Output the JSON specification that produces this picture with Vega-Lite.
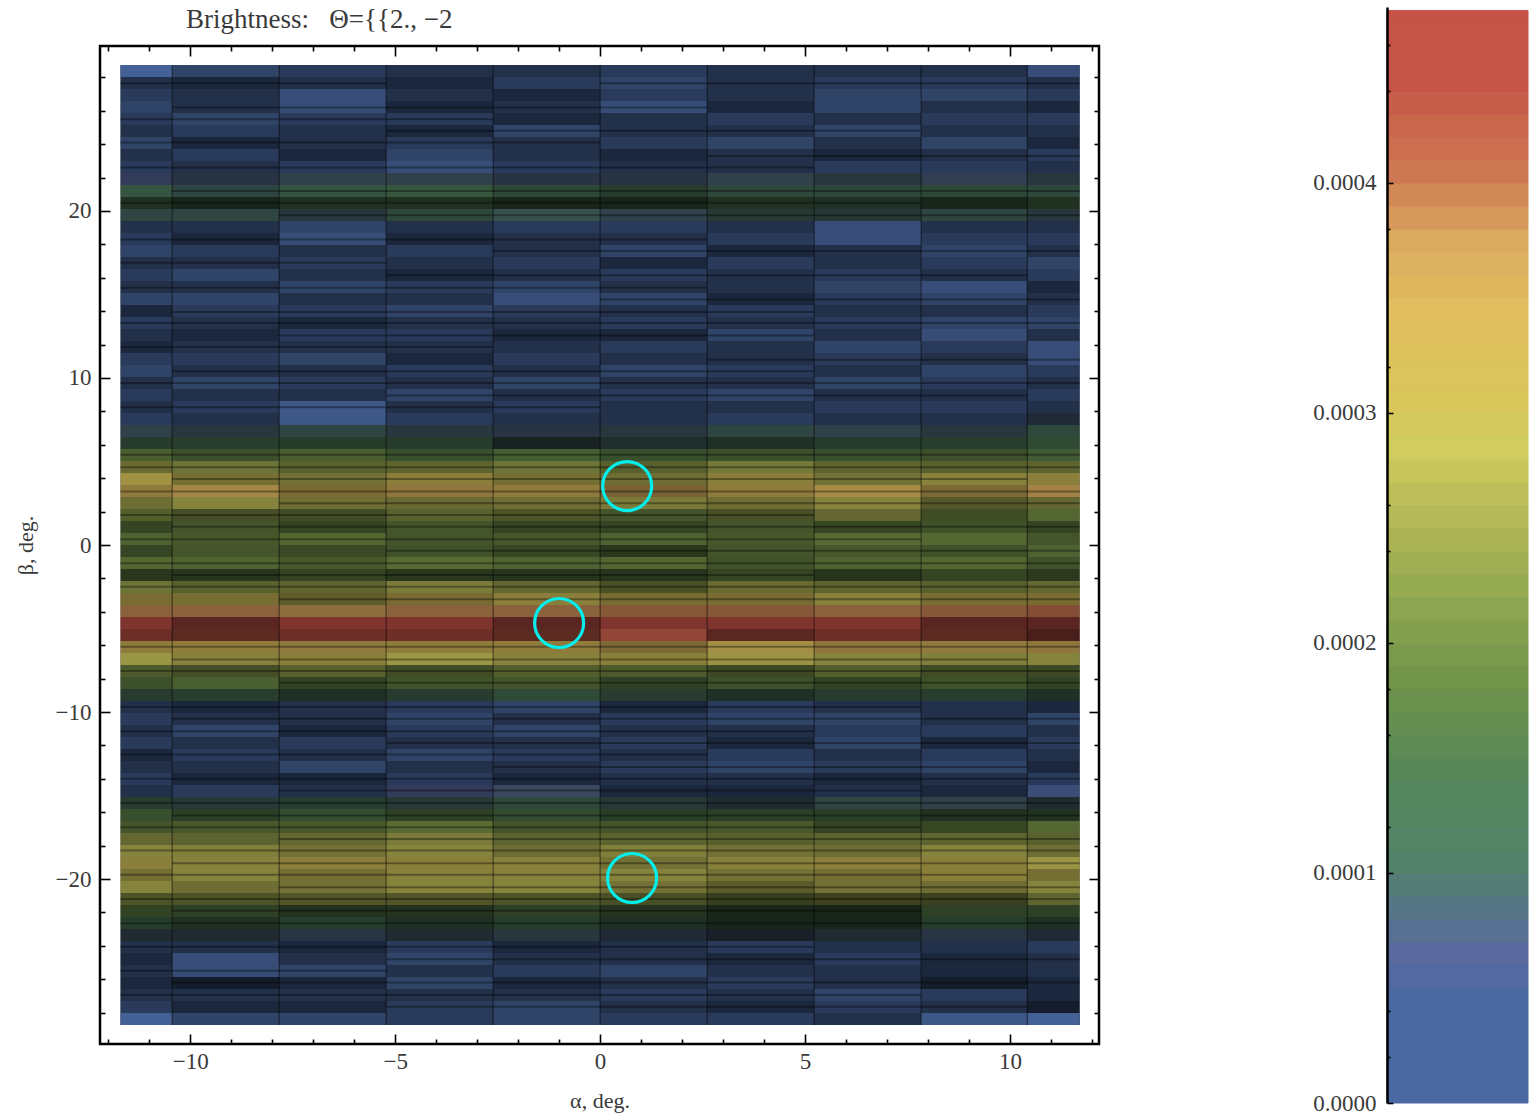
{"$schema":"https://vega.github.io/schema/vega-lite/v6.json","background":"white","padding":{"left":12,"top":6,"right":0,"bottom":0},"spacing":210,"config":{"font":"Liberation Serif","view":{"stroke":null},"axis":{"grid":false,"labelFont":"Liberation Serif","titleFont":"Liberation Serif","labelFontSize":23,"titleFontSize":22,"labelColor":"#3a3a3a","titleColor":"#3a3a3a","titleFontWeight":"normal","tickColor":"#000","tickWidth":1.6,"labelOverlap":false,"labelFlush":false}},
"datasets":{
"cols":[{"c":1,"a0":-11.7,"a1":-10.44},{"c":2,"a0":-10.44,"a1":-7.83},{"c":3,"a0":-7.83,"a1":-5.22},{"c":4,"a0":-5.22,"a1":-2.61},{"c":5,"a0":-2.61,"a1":0},{"c":6,"a0":0,"a1":2.61},{"c":7,"a0":2.61,"a1":5.22},{"c":8,"a0":5.22,"a1":7.83},{"c":9,"a0":7.83,"a1":10.42},{"c":10,"a0":10.42,"a1":11.7}],
"rows":[{"r":1,"b0":28.74,"b1":28.02},{"r":2,"b0":28.02,"b1":27.3},{"r":3,"b0":27.3,"b1":26.58},{"r":4,"b0":26.58,"b1":25.87},{"r":5,"b0":25.87,"b1":25.15},{"r":6,"b0":25.15,"b1":24.43},{"r":7,"b0":24.43,"b1":23.71},{"r":8,"b0":23.71,"b1":22.99},{"r":9,"b0":22.99,"b1":22.27},{"r":10,"b0":22.27,"b1":21.56},{"r":11,"b0":21.56,"b1":20.84},{"r":12,"b0":20.84,"b1":20.12},{"r":13,"b0":20.12,"b1":19.4},{"r":14,"b0":19.4,"b1":18.68},{"r":15,"b0":18.68,"b1":17.96},{"r":16,"b0":17.96,"b1":17.24},{"r":17,"b0":17.24,"b1":16.53},{"r":18,"b0":16.53,"b1":15.81},{"r":19,"b0":15.81,"b1":15.09},{"r":20,"b0":15.09,"b1":14.37},{"r":21,"b0":14.37,"b1":13.65},{"r":22,"b0":13.65,"b1":12.93},{"r":23,"b0":12.93,"b1":12.21},{"r":24,"b0":12.21,"b1":11.5},{"r":25,"b0":11.5,"b1":10.78},{"r":26,"b0":10.78,"b1":10.06},{"r":27,"b0":10.06,"b1":9.34},{"r":28,"b0":9.34,"b1":8.62},{"r":29,"b0":8.62,"b1":7.9},{"r":30,"b0":7.9,"b1":7.19},{"r":31,"b0":7.19,"b1":6.47},{"r":32,"b0":6.47,"b1":5.75},{"r":33,"b0":5.75,"b1":5.03},{"r":34,"b0":5.03,"b1":4.31},{"r":35,"b0":4.31,"b1":3.59},{"r":36,"b0":3.59,"b1":2.87},{"r":37,"b0":2.87,"b1":2.16},{"r":38,"b0":2.16,"b1":1.44},{"r":39,"b0":1.44,"b1":0.72},{"r":40,"b0":0.72,"b1":0},{"r":41,"b0":0,"b1":-0.72},{"r":42,"b0":-0.72,"b1":-1.44},{"r":43,"b0":-1.44,"b1":-2.16},{"r":44,"b0":-2.16,"b1":-2.87},{"r":45,"b0":-2.87,"b1":-3.59},{"r":46,"b0":-3.59,"b1":-4.31},{"r":47,"b0":-4.31,"b1":-5.03},{"r":48,"b0":-5.03,"b1":-5.75},{"r":49,"b0":-5.75,"b1":-6.47},{"r":50,"b0":-6.47,"b1":-7.19},{"r":51,"b0":-7.19,"b1":-7.9},{"r":52,"b0":-7.9,"b1":-8.62},{"r":53,"b0":-8.62,"b1":-9.34},{"r":54,"b0":-9.34,"b1":-10.06},{"r":55,"b0":-10.06,"b1":-10.78},{"r":56,"b0":-10.78,"b1":-11.5},{"r":57,"b0":-11.5,"b1":-12.21},{"r":58,"b0":-12.21,"b1":-12.93},{"r":59,"b0":-12.93,"b1":-13.65},{"r":60,"b0":-13.65,"b1":-14.37},{"r":61,"b0":-14.37,"b1":-15.09},{"r":62,"b0":-15.09,"b1":-15.81},{"r":63,"b0":-15.81,"b1":-16.53},{"r":64,"b0":-16.53,"b1":-17.24},{"r":65,"b0":-17.24,"b1":-17.96},{"r":66,"b0":-17.96,"b1":-18.68},{"r":67,"b0":-18.68,"b1":-19.4},{"r":68,"b0":-19.4,"b1":-20.12},{"r":69,"b0":-20.12,"b1":-20.84},{"r":70,"b0":-20.84,"b1":-21.56},{"r":71,"b0":-21.56,"b1":-22.27},{"r":72,"b0":-22.27,"b1":-22.99},{"r":73,"b0":-22.99,"b1":-23.71},{"r":74,"b0":-23.71,"b1":-24.43},{"r":75,"b0":-24.43,"b1":-25.15},{"r":76,"b0":-25.15,"b1":-25.87},{"r":77,"b0":-25.87,"b1":-26.58},{"r":78,"b0":-26.58,"b1":-27.3},{"r":79,"b0":-27.3,"b1":-28.02},{"r":80,"b0":-28.02,"b1":-28.74}],
"cells":[
{"c":1,"r":1,"v":2e-5,"o":10},{"c":2,"r":1,"v":2e-5,"o":7},{"c":3,"r":1,"v":2e-5,"o":6},{"c":4,"r":1,"v":2e-5,"o":5},{"c":5,"r":1,"v":2e-5,"o":5},{"c":6,"r":1,"v":2e-5,"o":6},{"c":7,"r":1,"v":2e-5,"o":5},{"c":8,"r":1,"v":2e-5,"o":5},{"c":9,"r":1,"v":2e-5,"o":5},{"c":10,"r":1,"v":2e-5,"o":8},
{"c":1,"r":2,"v":2e-5,"o":5},{"c":2,"r":2,"v":2e-5,"o":4},{"c":3,"r":2,"v":2e-5,"o":5},{"c":4,"r":2,"v":2e-5,"o":4},{"c":5,"r":2,"v":2e-5,"o":6},{"c":6,"r":2,"v":2e-5,"o":7},{"c":7,"r":2,"v":2e-5,"o":5},{"c":8,"r":2,"v":2e-5,"o":6},{"c":9,"r":2,"v":2e-5,"o":6},{"c":10,"r":2,"v":2e-5,"o":5},
{"c":1,"r":3,"v":2e-5,"o":6},{"c":2,"r":3,"v":2e-5,"o":5},{"c":3,"r":3,"v":2e-5,"o":8},{"c":4,"r":3,"v":2e-5,"o":5},{"c":5,"r":3,"v":2e-5,"o":4},{"c":6,"r":3,"v":2e-5,"o":6},{"c":7,"r":3,"v":2e-5,"o":5},{"c":8,"r":3,"v":2e-5,"o":7},{"c":9,"r":3,"v":2e-5,"o":7},{"c":10,"r":3,"v":2e-5,"o":6},
{"c":1,"r":4,"v":2e-5,"o":7},{"c":2,"r":4,"v":2e-5,"o":5},{"c":3,"r":4,"v":2e-5,"o":8},{"c":4,"r":4,"v":2e-5,"o":4},{"c":5,"r":4,"v":2e-5,"o":5},{"c":6,"r":4,"v":2e-5,"o":8},{"c":7,"r":4,"v":2e-5,"o":4},{"c":8,"r":4,"v":2e-5,"o":7},{"c":9,"r":4,"v":2e-5,"o":5},{"c":10,"r":4,"v":2e-5,"o":4},
{"c":1,"r":5,"v":2e-5,"o":6},{"c":2,"r":5,"v":2e-5,"o":7},{"c":3,"r":5,"v":2e-5,"o":6},{"c":4,"r":5,"v":2e-5,"o":6},{"c":5,"r":5,"v":2e-5,"o":4},{"c":6,"r":5,"v":2e-5,"o":5},{"c":7,"r":5,"v":2e-5,"o":6},{"c":8,"r":5,"v":2e-5,"o":5},{"c":9,"r":5,"v":2e-5,"o":6},{"c":10,"r":5,"v":2e-5,"o":6},
{"c":1,"r":6,"v":2e-5,"o":5},{"c":2,"r":6,"v":2e-5,"o":6},{"c":3,"r":6,"v":2e-5,"o":5},{"c":4,"r":6,"v":2e-5,"o":4},{"c":5,"r":6,"v":2e-5,"o":7},{"c":6,"r":6,"v":2e-5,"o":5},{"c":7,"r":6,"v":2e-5,"o":5},{"c":8,"r":6,"v":2e-5,"o":7},{"c":9,"r":6,"v":2e-5,"o":5},{"c":10,"r":6,"v":2e-5,"o":5},
{"c":1,"r":7,"v":2e-5,"o":7},{"c":2,"r":7,"v":2e-5,"o":4},{"c":3,"r":7,"v":2e-5,"o":5},{"c":4,"r":7,"v":2e-5,"o":6},{"c":5,"r":7,"v":2e-5,"o":5},{"c":6,"r":7,"v":2e-5,"o":6},{"c":7,"r":7,"v":2e-5,"o":7},{"c":8,"r":7,"v":2e-5,"o":5},{"c":9,"r":7,"v":2e-5,"o":7},{"c":10,"r":7,"v":2e-5,"o":4},
{"c":1,"r":8,"v":3e-5,"o":5},{"c":2,"r":8,"v":3e-5,"o":6},{"c":3,"r":8,"v":3e-5,"o":4},{"c":4,"r":8,"v":3e-5,"o":7},{"c":5,"r":8,"v":3e-5,"o":5},{"c":6,"r":8,"v":3e-5,"o":4},{"c":7,"r":8,"v":3e-5,"o":5},{"c":8,"r":8,"v":3e-5,"o":4},{"c":9,"r":8,"v":3e-5,"o":5},{"c":10,"r":8,"v":3e-5,"o":6},
{"c":1,"r":9,"v":4e-5,"o":6},{"c":2,"r":9,"v":3e-5,"o":5},{"c":3,"r":9,"v":4e-5,"o":6},{"c":4,"r":9,"v":4e-5,"o":8},{"c":5,"r":9,"v":3e-5,"o":6},{"c":6,"r":9,"v":4e-5,"o":5},{"c":7,"r":9,"v":4e-5,"o":5},{"c":8,"r":9,"v":3e-5,"o":6},{"c":9,"r":9,"v":4e-5,"o":6},{"c":10,"r":9,"v":3e-5,"o":5},
{"c":1,"r":10,"v":6e-5,"o":6},{"c":2,"r":10,"v":7e-5,"o":5},{"c":3,"r":10,"v":8e-5,"o":6},{"c":4,"r":10,"v":8e-5,"o":6},{"c":5,"r":10,"v":7e-5,"o":5},{"c":6,"r":10,"v":7e-5,"o":5},{"c":7,"r":10,"v":8e-5,"o":6},{"c":8,"r":10,"v":8e-5,"o":5},{"c":9,"r":10,"v":7e-5,"o":6},{"c":10,"r":10,"v":8e-5,"o":5},
{"c":1,"r":11,"v":11e-5,"o":7},{"c":2,"r":11,"v":9e-5,"o":6},{"c":3,"r":11,"v":10e-5,"o":7},{"c":4,"r":11,"v":12e-5,"o":7},{"c":5,"r":11,"v":11e-5,"o":6},{"c":6,"r":11,"v":11e-5,"o":5},{"c":7,"r":11,"v":10e-5,"o":6},{"c":8,"r":11,"v":10e-5,"o":6},{"c":9,"r":11,"v":11e-5,"o":6},{"c":10,"r":11,"v":10e-5,"o":6},
{"c":1,"r":12,"v":13e-5,"o":4},{"c":2,"r":12,"v":12e-5,"o":3},{"c":3,"r":12,"v":13e-5,"o":4},{"c":4,"r":12,"v":13e-5,"o":4},{"c":5,"r":12,"v":14e-5,"o":3},{"c":6,"r":12,"v":13e-5,"o":3},{"c":7,"r":12,"v":13e-5,"o":4},{"c":8,"r":12,"v":12e-5,"o":4},{"c":9,"r":12,"v":12e-5,"o":3},{"c":10,"r":12,"v":13e-5,"o":4},
{"c":1,"r":13,"v":9e-5,"o":6},{"c":2,"r":13,"v":9e-5,"o":6},{"c":3,"r":13,"v":8e-5,"o":5},{"c":4,"r":13,"v":10e-5,"o":6},{"c":5,"r":13,"v":9e-5,"o":7},{"c":6,"r":13,"v":8e-5,"o":6},{"c":7,"r":13,"v":9e-5,"o":5},{"c":8,"r":13,"v":9e-5,"o":5},{"c":9,"r":13,"v":9e-5,"o":6},{"c":10,"r":13,"v":8e-5,"o":5},
{"c":1,"r":14,"v":3e-5,"o":5},{"c":2,"r":14,"v":3e-5,"o":5},{"c":3,"r":14,"v":3e-5,"o":7},{"c":4,"r":14,"v":2e-5,"o":5},{"c":5,"r":14,"v":3e-5,"o":6},{"c":6,"r":14,"v":3e-5,"o":6},{"c":7,"r":14,"v":3e-5,"o":5},{"c":8,"r":14,"v":3e-5,"o":8},{"c":9,"r":14,"v":3e-5,"o":5},{"c":10,"r":14,"v":3e-5,"o":5},
{"c":1,"r":15,"v":2e-5,"o":6},{"c":2,"r":15,"v":2e-5,"o":4},{"c":3,"r":15,"v":2e-5,"o":8},{"c":4,"r":15,"v":2e-5,"o":4},{"c":5,"r":15,"v":2e-5,"o":5},{"c":6,"r":15,"v":2e-5,"o":5},{"c":7,"r":15,"v":2e-5,"o":6},{"c":8,"r":15,"v":2e-5,"o":8},{"c":9,"r":15,"v":2e-5,"o":6},{"c":10,"r":15,"v":2e-5,"o":6},
{"c":1,"r":16,"v":2e-5,"o":7},{"c":2,"r":16,"v":2e-5,"o":6},{"c":3,"r":16,"v":2e-5,"o":5},{"c":4,"r":16,"v":2e-5,"o":6},{"c":5,"r":16,"v":2e-5,"o":5},{"c":6,"r":16,"v":2e-5,"o":7},{"c":7,"r":16,"v":2e-5,"o":4},{"c":8,"r":16,"v":2e-5,"o":5},{"c":9,"r":16,"v":2e-5,"o":7},{"c":10,"r":16,"v":2e-5,"o":5},
{"c":1,"r":17,"v":2e-5,"o":5},{"c":2,"r":17,"v":2e-5,"o":5},{"c":3,"r":17,"v":2e-5,"o":6},{"c":4,"r":17,"v":2e-5,"o":5},{"c":5,"r":17,"v":2e-5,"o":6},{"c":6,"r":17,"v":2e-5,"o":4},{"c":7,"r":17,"v":2e-5,"o":6},{"c":8,"r":17,"v":2e-5,"o":5},{"c":9,"r":17,"v":2e-5,"o":6},{"c":10,"r":17,"v":2e-5,"o":7},
{"c":1,"r":18,"v":2e-5,"o":6},{"c":2,"r":18,"v":2e-5,"o":7},{"c":3,"r":18,"v":2e-5,"o":5},{"c":4,"r":18,"v":2e-5,"o":4},{"c":5,"r":18,"v":2e-5,"o":5},{"c":6,"r":18,"v":2e-5,"o":6},{"c":7,"r":18,"v":2e-5,"o":5},{"c":8,"r":18,"v":2e-5,"o":6},{"c":9,"r":18,"v":2e-5,"o":5},{"c":10,"r":18,"v":2e-5,"o":6},
{"c":1,"r":19,"v":2e-5,"o":5},{"c":2,"r":19,"v":2e-5,"o":5},{"c":3,"r":19,"v":2e-5,"o":7},{"c":4,"r":19,"v":2e-5,"o":6},{"c":5,"r":19,"v":2e-5,"o":7},{"c":6,"r":19,"v":2e-5,"o":5},{"c":7,"r":19,"v":2e-5,"o":5},{"c":8,"r":19,"v":2e-5,"o":7},{"c":9,"r":19,"v":2e-5,"o":8},{"c":10,"r":19,"v":2e-5,"o":4},
{"c":1,"r":20,"v":2e-5,"o":7},{"c":2,"r":20,"v":2e-5,"o":7},{"c":3,"r":20,"v":2e-5,"o":5},{"c":4,"r":20,"v":2e-5,"o":5},{"c":5,"r":20,"v":2e-5,"o":8},{"c":6,"r":20,"v":2e-5,"o":7},{"c":7,"r":20,"v":2e-5,"o":4},{"c":8,"r":20,"v":2e-5,"o":6},{"c":9,"r":20,"v":2e-5,"o":7},{"c":10,"r":20,"v":2e-5,"o":5},
{"c":1,"r":21,"v":2e-5,"o":4},{"c":2,"r":21,"v":2e-5,"o":6},{"c":3,"r":21,"v":2e-5,"o":6},{"c":4,"r":21,"v":2e-5,"o":7},{"c":5,"r":21,"v":2e-5,"o":6},{"c":6,"r":21,"v":2e-5,"o":5},{"c":7,"r":21,"v":2e-5,"o":6},{"c":8,"r":21,"v":2e-5,"o":5},{"c":9,"r":21,"v":2e-5,"o":5},{"c":10,"r":21,"v":2e-5,"o":6},
{"c":1,"r":22,"v":2e-5,"o":6},{"c":2,"r":22,"v":2e-5,"o":5},{"c":3,"r":22,"v":2e-5,"o":4},{"c":4,"r":22,"v":2e-5,"o":5},{"c":5,"r":22,"v":2e-5,"o":5},{"c":6,"r":22,"v":2e-5,"o":6},{"c":7,"r":22,"v":2e-5,"o":5},{"c":8,"r":22,"v":2e-5,"o":6},{"c":9,"r":22,"v":2e-5,"o":7},{"c":10,"r":22,"v":2e-5,"o":7},
{"c":1,"r":23,"v":2e-5,"o":5},{"c":2,"r":23,"v":2e-5,"o":4},{"c":3,"r":23,"v":2e-5,"o":6},{"c":4,"r":23,"v":2e-5,"o":6},{"c":5,"r":23,"v":2e-5,"o":4},{"c":6,"r":23,"v":2e-5,"o":4},{"c":7,"r":23,"v":2e-5,"o":7},{"c":8,"r":23,"v":2e-5,"o":5},{"c":9,"r":23,"v":2e-5,"o":8},{"c":10,"r":23,"v":2e-5,"o":5},
{"c":1,"r":24,"v":2e-5,"o":4},{"c":2,"r":24,"v":2e-5,"o":5},{"c":3,"r":24,"v":2e-5,"o":5},{"c":4,"r":24,"v":2e-5,"o":5},{"c":5,"r":24,"v":2e-5,"o":5},{"c":6,"r":24,"v":2e-5,"o":6},{"c":7,"r":24,"v":2e-5,"o":5},{"c":8,"r":24,"v":2e-5,"o":7},{"c":9,"r":24,"v":2e-5,"o":6},{"c":10,"r":24,"v":2e-5,"o":8},
{"c":1,"r":25,"v":2e-5,"o":6},{"c":2,"r":25,"v":2e-5,"o":6},{"c":3,"r":25,"v":2e-5,"o":7},{"c":4,"r":25,"v":2e-5,"o":4},{"c":5,"r":25,"v":2e-5,"o":6},{"c":6,"r":25,"v":2e-5,"o":5},{"c":7,"r":25,"v":2e-5,"o":5},{"c":8,"r":25,"v":2e-5,"o":6},{"c":9,"r":25,"v":2e-5,"o":5},{"c":10,"r":25,"v":2e-5,"o":8},
{"c":1,"r":26,"v":2e-5,"o":7},{"c":2,"r":26,"v":2e-5,"o":5},{"c":3,"r":26,"v":2e-5,"o":5},{"c":4,"r":26,"v":2e-5,"o":6},{"c":5,"r":26,"v":2e-5,"o":5},{"c":6,"r":26,"v":2e-5,"o":7},{"c":7,"r":26,"v":2e-5,"o":6},{"c":8,"r":26,"v":2e-5,"o":5},{"c":9,"r":26,"v":2e-5,"o":7},{"c":10,"r":26,"v":2e-5,"o":6},
{"c":1,"r":27,"v":2e-5,"o":5},{"c":2,"r":27,"v":2e-5,"o":7},{"c":3,"r":27,"v":2e-5,"o":6},{"c":4,"r":27,"v":2e-5,"o":5},{"c":5,"r":27,"v":2e-5,"o":7},{"c":6,"r":27,"v":2e-5,"o":5},{"c":7,"r":27,"v":2e-5,"o":5},{"c":8,"r":27,"v":2e-5,"o":7},{"c":9,"r":27,"v":2e-5,"o":6},{"c":10,"r":27,"v":2e-5,"o":5},
{"c":1,"r":28,"v":2e-5,"o":6},{"c":2,"r":28,"v":2e-5,"o":5},{"c":3,"r":28,"v":2e-5,"o":5},{"c":4,"r":28,"v":2e-5,"o":7},{"c":5,"r":28,"v":2e-5,"o":5},{"c":6,"r":28,"v":2e-5,"o":6},{"c":7,"r":28,"v":2e-5,"o":7},{"c":8,"r":28,"v":2e-5,"o":5},{"c":9,"r":28,"v":2e-5,"o":5},{"c":10,"r":28,"v":2e-5,"o":6},
{"c":1,"r":29,"v":3e-5,"o":5},{"c":2,"r":29,"v":3e-5,"o":6},{"c":3,"r":29,"v":2e-5,"o":9},{"c":4,"r":29,"v":3e-5,"o":5},{"c":5,"r":29,"v":3e-5,"o":6},{"c":6,"r":29,"v":3e-5,"o":5},{"c":7,"r":29,"v":3e-5,"o":5},{"c":8,"r":29,"v":3e-5,"o":6},{"c":9,"r":29,"v":3e-5,"o":6},{"c":10,"r":29,"v":3e-5,"o":5},
{"c":1,"r":30,"v":4e-5,"o":6},{"c":2,"r":30,"v":4e-5,"o":5},{"c":3,"r":30,"v":3e-5,"o":9},{"c":4,"r":30,"v":4e-5,"o":6},{"c":5,"r":30,"v":4e-5,"o":5},{"c":6,"r":30,"v":4e-5,"o":5},{"c":7,"r":30,"v":4e-5,"o":6},{"c":8,"r":30,"v":4e-5,"o":5},{"c":9,"r":30,"v":4e-5,"o":5},{"c":10,"r":30,"v":7e-5,"o":4},
{"c":1,"r":31,"v":8e-5,"o":6},{"c":2,"r":31,"v":8e-5,"o":5},{"c":3,"r":31,"v":9e-5,"o":6},{"c":4,"r":31,"v":8e-5,"o":5},{"c":5,"r":31,"v":7e-5,"o":5},{"c":6,"r":31,"v":8e-5,"o":5},{"c":7,"r":31,"v":9e-5,"o":6},{"c":8,"r":31,"v":8e-5,"o":6},{"c":9,"r":31,"v":8e-5,"o":5},{"c":10,"r":31,"v":10e-5,"o":6},
{"c":1,"r":32,"v":11e-5,"o":5},{"c":2,"r":32,"v":12e-5,"o":5},{"c":3,"r":32,"v":13e-5,"o":5},{"c":4,"r":32,"v":11e-5,"o":5},{"c":5,"r":32,"v":9e-5,"o":3},{"c":6,"r":32,"v":9e-5,"o":4},{"c":7,"r":32,"v":10e-5,"o":4},{"c":8,"r":32,"v":11e-5,"o":5},{"c":9,"r":32,"v":12e-5,"o":5},{"c":10,"r":32,"v":13e-5,"o":6},
{"c":1,"r":33,"v":18e-5,"o":7},{"c":2,"r":33,"v":17e-5,"o":6},{"c":3,"r":33,"v":18e-5,"o":7},{"c":4,"r":33,"v":16e-5,"o":6},{"c":5,"r":33,"v":17e-5,"o":7},{"c":6,"r":33,"v":16e-5,"o":6},{"c":7,"r":33,"v":17e-5,"o":6},{"c":8,"r":33,"v":16e-5,"o":6},{"c":9,"r":33,"v":17e-5,"o":6},{"c":10,"r":33,"v":16e-5,"o":7},
{"c":1,"r":34,"v":26e-5,"o":6},{"c":2,"r":34,"v":24e-5,"o":7},{"c":3,"r":34,"v":23e-5,"o":6},{"c":4,"r":34,"v":24e-5,"o":6},{"c":5,"r":34,"v":24e-5,"o":7},{"c":6,"r":34,"v":23e-5,"o":6},{"c":7,"r":34,"v":25e-5,"o":7},{"c":8,"r":34,"v":24e-5,"o":6},{"c":9,"r":34,"v":23e-5,"o":6},{"c":10,"r":34,"v":24e-5,"o":6},
{"c":1,"r":35,"v":31e-5,"o":8},{"c":2,"r":35,"v":29e-5,"o":6},{"c":3,"r":35,"v":28e-5,"o":6},{"c":4,"r":35,"v":30e-5,"o":7},{"c":5,"r":35,"v":29e-5,"o":6},{"c":6,"r":35,"v":27e-5,"o":6},{"c":7,"r":35,"v":30e-5,"o":7},{"c":8,"r":35,"v":28e-5,"o":6},{"c":9,"r":35,"v":29e-5,"o":7},{"c":10,"r":35,"v":31e-5,"o":7},
{"c":1,"r":36,"v":34e-5,"o":7},{"c":2,"r":36,"v":35e-5,"o":8},{"c":3,"r":36,"v":33e-5,"o":6},{"c":4,"r":36,"v":35e-5,"o":7},{"c":5,"r":36,"v":34e-5,"o":7},{"c":6,"r":36,"v":36e-5,"o":6},{"c":7,"r":36,"v":33e-5,"o":7},{"c":8,"r":36,"v":34e-5,"o":8},{"c":9,"r":36,"v":34e-5,"o":6},{"c":10,"r":36,"v":36e-5,"o":8},
{"c":1,"r":37,"v":27e-5,"o":6},{"c":2,"r":37,"v":28e-5,"o":7},{"c":3,"r":37,"v":27e-5,"o":6},{"c":4,"r":37,"v":26e-5,"o":6},{"c":5,"r":37,"v":27e-5,"o":6},{"c":6,"r":37,"v":26e-5,"o":7},{"c":7,"r":37,"v":27e-5,"o":6},{"c":8,"r":37,"v":28e-5,"o":7},{"c":9,"r":37,"v":26e-5,"o":5},{"c":10,"r":37,"v":25e-5,"o":6},
{"c":1,"r":38,"v":22e-5,"o":6},{"c":2,"r":38,"v":22e-5,"o":5},{"c":3,"r":38,"v":21e-5,"o":5},{"c":4,"r":38,"v":23e-5,"o":6},{"c":5,"r":38,"v":24e-5,"o":5},{"c":6,"r":38,"v":19e-5,"o":6},{"c":7,"r":38,"v":23e-5,"o":5},{"c":8,"r":38,"v":25e-5,"o":6},{"c":9,"r":38,"v":21e-5,"o":5},{"c":10,"r":38,"v":20e-5,"o":7},
{"c":1,"r":39,"v":18e-5,"o":5},{"c":2,"r":39,"v":19e-5,"o":6},{"c":3,"r":39,"v":18e-5,"o":5},{"c":4,"r":39,"v":19e-5,"o":6},{"c":5,"r":39,"v":18e-5,"o":5},{"c":6,"r":39,"v":18e-5,"o":5},{"c":7,"r":39,"v":19e-5,"o":6},{"c":8,"r":39,"v":19e-5,"o":5},{"c":9,"r":39,"v":18e-5,"o":6},{"c":10,"r":39,"v":18e-5,"o":5},
{"c":1,"r":40,"v":19e-5,"o":7},{"c":2,"r":40,"v":20e-5,"o":6},{"c":3,"r":40,"v":20e-5,"o":7},{"c":4,"r":40,"v":19e-5,"o":6},{"c":5,"r":40,"v":20e-5,"o":6},{"c":6,"r":40,"v":19e-5,"o":7},{"c":7,"r":40,"v":20e-5,"o":6},{"c":8,"r":40,"v":21e-5,"o":7},{"c":9,"r":40,"v":20e-5,"o":7},{"c":10,"r":40,"v":19e-5,"o":6},
{"c":1,"r":41,"v":18e-5,"o":5},{"c":2,"r":41,"v":19e-5,"o":6},{"c":3,"r":41,"v":20e-5,"o":5},{"c":4,"r":41,"v":18e-5,"o":6},{"c":5,"r":41,"v":19e-5,"o":5},{"c":6,"r":41,"v":18e-5,"o":4},{"c":7,"r":41,"v":19e-5,"o":6},{"c":8,"r":41,"v":20e-5,"o":6},{"c":9,"r":41,"v":18e-5,"o":6},{"c":10,"r":41,"v":19e-5,"o":7},
{"c":1,"r":42,"v":20e-5,"o":7},{"c":2,"r":42,"v":19e-5,"o":7},{"c":3,"r":42,"v":20e-5,"o":6},{"c":4,"r":42,"v":21e-5,"o":7},{"c":5,"r":42,"v":19e-5,"o":7},{"c":6,"r":42,"v":20e-5,"o":7},{"c":7,"r":42,"v":18e-5,"o":6},{"c":8,"r":42,"v":19e-5,"o":7},{"c":9,"r":42,"v":20e-5,"o":7},{"c":10,"r":42,"v":18e-5,"o":6},
{"c":1,"r":43,"v":18e-5,"o":4},{"c":2,"r":43,"v":17e-5,"o":4},{"c":3,"r":43,"v":18e-5,"o":5},{"c":4,"r":43,"v":18e-5,"o":4},{"c":5,"r":43,"v":17e-5,"o":4},{"c":6,"r":43,"v":17e-5,"o":4},{"c":7,"r":43,"v":18e-5,"o":5},{"c":8,"r":43,"v":17e-5,"o":4},{"c":9,"r":43,"v":18e-5,"o":5},{"c":10,"r":43,"v":19e-5,"o":4},
{"c":1,"r":44,"v":24e-5,"o":7},{"c":2,"r":44,"v":23e-5,"o":6},{"c":3,"r":44,"v":24e-5,"o":6},{"c":4,"r":44,"v":26e-5,"o":7},{"c":5,"r":44,"v":25e-5,"o":6},{"c":6,"r":44,"v":23e-5,"o":5},{"c":7,"r":44,"v":26e-5,"o":6},{"c":8,"r":44,"v":24e-5,"o":6},{"c":9,"r":44,"v":23e-5,"o":6},{"c":10,"r":44,"v":25e-5,"o":6},
{"c":1,"r":45,"v":31e-5,"o":6},{"c":2,"r":45,"v":30e-5,"o":6},{"c":3,"r":45,"v":29e-5,"o":5},{"c":4,"r":45,"v":31e-5,"o":6},{"c":5,"r":45,"v":30e-5,"o":7},{"c":6,"r":45,"v":31e-5,"o":6},{"c":7,"r":45,"v":31e-5,"o":6},{"c":8,"r":45,"v":29e-5,"o":7},{"c":9,"r":45,"v":30e-5,"o":6},{"c":10,"r":45,"v":31e-5,"o":6},
{"c":1,"r":46,"v":38e-5,"o":7},{"c":2,"r":46,"v":38e-5,"o":7},{"c":3,"r":46,"v":37e-5,"o":7},{"c":4,"r":46,"v":38e-5,"o":7},{"c":5,"r":46,"v":38e-5,"o":7},{"c":6,"r":46,"v":39e-5,"o":7},{"c":7,"r":46,"v":39e-5,"o":7},{"c":8,"r":46,"v":38e-5,"o":7},{"c":9,"r":46,"v":39e-5,"o":7},{"c":10,"r":46,"v":40e-5,"o":7},
{"c":1,"r":47,"v":46e-5,"o":7},{"c":2,"r":47,"v":46e-5,"o":5},{"c":3,"r":47,"v":46e-5,"o":7},{"c":4,"r":47,"v":46e-5,"o":7},{"c":5,"r":47,"v":46e-5,"o":5},{"c":6,"r":47,"v":46e-5,"o":7},{"c":7,"r":47,"v":46e-5,"o":7},{"c":8,"r":47,"v":46e-5,"o":7},{"c":9,"r":47,"v":46e-5,"o":5},{"c":10,"r":47,"v":46e-5,"o":5},
{"c":1,"r":48,"v":45e-5,"o":6},{"c":2,"r":48,"v":43e-5,"o":5},{"c":3,"r":48,"v":44e-5,"o":6},{"c":4,"r":48,"v":44e-5,"o":6},{"c":5,"r":48,"v":43e-5,"o":5},{"c":6,"r":48,"v":43e-5,"o":8},{"c":7,"r":48,"v":45e-5,"o":5},{"c":8,"r":48,"v":44e-5,"o":6},{"c":9,"r":48,"v":43e-5,"o":5},{"c":10,"r":48,"v":44e-5,"o":4},
{"c":1,"r":49,"v":33e-5,"o":7},{"c":2,"r":49,"v":33e-5,"o":7},{"c":3,"r":49,"v":34e-5,"o":7},{"c":4,"r":49,"v":33e-5,"o":7},{"c":5,"r":49,"v":33e-5,"o":7},{"c":6,"r":49,"v":34e-5,"o":6},{"c":7,"r":49,"v":33e-5,"o":8},{"c":8,"r":49,"v":35e-5,"o":7},{"c":9,"r":49,"v":34e-5,"o":7},{"c":10,"r":49,"v":35e-5,"o":7},
{"c":1,"r":50,"v":28e-5,"o":8},{"c":2,"r":50,"v":29e-5,"o":7},{"c":3,"r":50,"v":30e-5,"o":7},{"c":4,"r":50,"v":28e-5,"o":8},{"c":5,"r":50,"v":29e-5,"o":7},{"c":6,"r":50,"v":30e-5,"o":7},{"c":7,"r":50,"v":29e-5,"o":8},{"c":8,"r":50,"v":28e-5,"o":7},{"c":9,"r":50,"v":27e-5,"o":7},{"c":10,"r":50,"v":28e-5,"o":7},
{"c":1,"r":51,"v":21e-5,"o":6},{"c":2,"r":51,"v":22e-5,"o":5},{"c":3,"r":51,"v":23e-5,"o":6},{"c":4,"r":51,"v":21e-5,"o":5},{"c":5,"r":51,"v":22e-5,"o":6},{"c":6,"r":51,"v":21e-5,"o":6},{"c":7,"r":51,"v":20e-5,"o":5},{"c":8,"r":51,"v":22e-5,"o":6},{"c":9,"r":51,"v":21e-5,"o":5},{"c":10,"r":51,"v":20e-5,"o":5},
{"c":1,"r":52,"v":17e-5,"o":6},{"c":2,"r":52,"v":18e-5,"o":7},{"c":3,"r":52,"v":17e-5,"o":5},{"c":4,"r":52,"v":18e-5,"o":6},{"c":5,"r":52,"v":19e-5,"o":6},{"c":6,"r":52,"v":16e-5,"o":5},{"c":7,"r":52,"v":17e-5,"o":6},{"c":8,"r":52,"v":17e-5,"o":5},{"c":9,"r":52,"v":18e-5,"o":6},{"c":10,"r":52,"v":17e-5,"o":5},
{"c":1,"r":53,"v":11e-5,"o":5},{"c":2,"r":53,"v":12e-5,"o":5},{"c":3,"r":53,"v":10e-5,"o":4},{"c":4,"r":53,"v":11e-5,"o":5},{"c":5,"r":53,"v":12e-5,"o":6},{"c":6,"r":53,"v":11e-5,"o":5},{"c":7,"r":53,"v":10e-5,"o":4},{"c":8,"r":53,"v":11e-5,"o":5},{"c":9,"r":53,"v":12e-5,"o":5},{"c":10,"r":53,"v":10e-5,"o":4},
{"c":1,"r":54,"v":4e-5,"o":5},{"c":2,"r":54,"v":3e-5,"o":4},{"c":3,"r":54,"v":3e-5,"o":5},{"c":4,"r":54,"v":4e-5,"o":6},{"c":5,"r":54,"v":3e-5,"o":7},{"c":6,"r":54,"v":3e-5,"o":4},{"c":7,"r":54,"v":4e-5,"o":6},{"c":8,"r":54,"v":3e-5,"o":5},{"c":9,"r":54,"v":4e-5,"o":5},{"c":10,"r":54,"v":3e-5,"o":4},
{"c":1,"r":55,"v":2e-5,"o":6},{"c":2,"r":55,"v":2e-5,"o":5},{"c":3,"r":55,"v":2e-5,"o":5},{"c":4,"r":55,"v":2e-5,"o":7},{"c":5,"r":55,"v":2e-5,"o":5},{"c":6,"r":55,"v":2e-5,"o":6},{"c":7,"r":55,"v":2e-5,"o":7},{"c":8,"r":55,"v":2e-5,"o":7},{"c":9,"r":55,"v":2e-5,"o":5},{"c":10,"r":55,"v":2e-5,"o":7},
{"c":1,"r":56,"v":2e-5,"o":5},{"c":2,"r":56,"v":2e-5,"o":7},{"c":3,"r":56,"v":2e-5,"o":4},{"c":4,"r":56,"v":2e-5,"o":6},{"c":5,"r":56,"v":2e-5,"o":7},{"c":6,"r":56,"v":2e-5,"o":5},{"c":7,"r":56,"v":2e-5,"o":5},{"c":8,"r":56,"v":2e-5,"o":6},{"c":9,"r":56,"v":2e-5,"o":6},{"c":10,"r":56,"v":2e-5,"o":5},
{"c":1,"r":57,"v":2e-5,"o":6},{"c":2,"r":57,"v":2e-5,"o":5},{"c":3,"r":57,"v":2e-5,"o":6},{"c":4,"r":57,"v":2e-5,"o":5},{"c":5,"r":57,"v":2e-5,"o":5},{"c":6,"r":57,"v":2e-5,"o":6},{"c":7,"r":57,"v":2e-5,"o":4},{"c":8,"r":57,"v":2e-5,"o":7},{"c":9,"r":57,"v":2e-5,"o":4},{"c":10,"r":57,"v":2e-5,"o":6},
{"c":1,"r":58,"v":2e-5,"o":4},{"c":2,"r":58,"v":2e-5,"o":6},{"c":3,"r":58,"v":2e-5,"o":5},{"c":4,"r":58,"v":2e-5,"o":7},{"c":5,"r":58,"v":2e-5,"o":6},{"c":6,"r":58,"v":2e-5,"o":5},{"c":7,"r":58,"v":2e-5,"o":6},{"c":8,"r":58,"v":2e-5,"o":5},{"c":9,"r":58,"v":2e-5,"o":6},{"c":10,"r":58,"v":2e-5,"o":5},
{"c":1,"r":59,"v":2e-5,"o":5},{"c":2,"r":59,"v":2e-5,"o":5},{"c":3,"r":59,"v":2e-5,"o":7},{"c":4,"r":59,"v":2e-5,"o":5},{"c":5,"r":59,"v":2e-5,"o":5},{"c":6,"r":59,"v":2e-5,"o":6},{"c":7,"r":59,"v":2e-5,"o":7},{"c":8,"r":59,"v":2e-5,"o":6},{"c":9,"r":59,"v":2e-5,"o":7},{"c":10,"r":59,"v":2e-5,"o":4},
{"c":1,"r":60,"v":2e-5,"o":6},{"c":2,"r":60,"v":2e-5,"o":4},{"c":3,"r":60,"v":2e-5,"o":4},{"c":4,"r":60,"v":2e-5,"o":6},{"c":5,"r":60,"v":2e-5,"o":4},{"c":6,"r":60,"v":2e-5,"o":5},{"c":7,"r":60,"v":2e-5,"o":5},{"c":8,"r":60,"v":2e-5,"o":4},{"c":9,"r":60,"v":2e-5,"o":5},{"c":10,"r":60,"v":2e-5,"o":6},
{"c":1,"r":61,"v":4e-5,"o":5},{"c":2,"r":61,"v":4e-5,"o":6},{"c":3,"r":61,"v":4e-5,"o":5},{"c":4,"r":61,"v":6e-5,"o":6},{"c":5,"r":61,"v":7e-5,"o":7},{"c":6,"r":61,"v":4e-5,"o":4},{"c":7,"r":61,"v":4e-5,"o":4},{"c":8,"r":61,"v":4e-5,"o":5},{"c":9,"r":61,"v":3e-5,"o":4},{"c":10,"r":61,"v":5e-5,"o":8},
{"c":1,"r":62,"v":11e-5,"o":5},{"c":2,"r":62,"v":9e-5,"o":5},{"c":3,"r":62,"v":10e-5,"o":5},{"c":4,"r":62,"v":9e-5,"o":5},{"c":5,"r":62,"v":10e-5,"o":6},{"c":6,"r":62,"v":9e-5,"o":5},{"c":7,"r":62,"v":8e-5,"o":4},{"c":8,"r":62,"v":9e-5,"o":6},{"c":9,"r":62,"v":8e-5,"o":6},{"c":10,"r":62,"v":8e-5,"o":4},
{"c":1,"r":63,"v":16e-5,"o":6},{"c":2,"r":63,"v":15e-5,"o":5},{"c":3,"r":63,"v":15e-5,"o":6},{"c":4,"r":63,"v":16e-5,"o":5},{"c":5,"r":63,"v":15e-5,"o":6},{"c":6,"r":63,"v":14e-5,"o":5},{"c":7,"r":63,"v":15e-5,"o":5},{"c":8,"r":63,"v":14e-5,"o":5},{"c":9,"r":63,"v":13e-5,"o":4},{"c":10,"r":63,"v":14e-5,"o":4},
{"c":1,"r":64,"v":19e-5,"o":6},{"c":2,"r":64,"v":20e-5,"o":6},{"c":3,"r":64,"v":20e-5,"o":6},{"c":4,"r":64,"v":21e-5,"o":7},{"c":5,"r":64,"v":19e-5,"o":6},{"c":6,"r":64,"v":19e-5,"o":6},{"c":7,"r":64,"v":20e-5,"o":6},{"c":8,"r":64,"v":18e-5,"o":5},{"c":9,"r":64,"v":19e-5,"o":5},{"c":10,"r":64,"v":20e-5,"o":7},
{"c":1,"r":65,"v":25e-5,"o":6},{"c":2,"r":65,"v":24e-5,"o":6},{"c":3,"r":65,"v":25e-5,"o":6},{"c":4,"r":65,"v":26e-5,"o":7},{"c":5,"r":65,"v":24e-5,"o":6},{"c":6,"r":65,"v":24e-5,"o":6},{"c":7,"r":65,"v":23e-5,"o":6},{"c":8,"r":65,"v":24e-5,"o":6},{"c":9,"r":65,"v":24e-5,"o":6},{"c":10,"r":65,"v":23e-5,"o":6},
{"c":1,"r":66,"v":28e-5,"o":7},{"c":2,"r":66,"v":27e-5,"o":7},{"c":3,"r":66,"v":28e-5,"o":6},{"c":4,"r":66,"v":28e-5,"o":7},{"c":5,"r":66,"v":27e-5,"o":6},{"c":6,"r":66,"v":27e-5,"o":7},{"c":7,"r":66,"v":28e-5,"o":6},{"c":8,"r":66,"v":27e-5,"o":6},{"c":9,"r":66,"v":28e-5,"o":7},{"c":10,"r":66,"v":27e-5,"o":6},
{"c":1,"r":67,"v":30e-5,"o":7},{"c":2,"r":67,"v":29e-5,"o":7},{"c":3,"r":67,"v":30e-5,"o":7},{"c":4,"r":67,"v":30e-5,"o":7},{"c":5,"r":67,"v":29e-5,"o":7},{"c":6,"r":67,"v":28e-5,"o":6},{"c":7,"r":67,"v":29e-5,"o":7},{"c":8,"r":67,"v":30e-5,"o":7},{"c":9,"r":67,"v":30e-5,"o":7},{"c":10,"r":67,"v":29e-5,"o":8},
{"c":1,"r":68,"v":29e-5,"o":6},{"c":2,"r":68,"v":28e-5,"o":7},{"c":3,"r":68,"v":29e-5,"o":6},{"c":4,"r":68,"v":29e-5,"o":7},{"c":5,"r":68,"v":29e-5,"o":7},{"c":6,"r":68,"v":28e-5,"o":7},{"c":7,"r":68,"v":28e-5,"o":6},{"c":8,"r":68,"v":29e-5,"o":6},{"c":9,"r":68,"v":30e-5,"o":7},{"c":10,"r":68,"v":29e-5,"o":6},
{"c":1,"r":69,"v":28e-5,"o":7},{"c":2,"r":69,"v":27e-5,"o":6},{"c":3,"r":69,"v":28e-5,"o":6},{"c":4,"r":69,"v":28e-5,"o":7},{"c":5,"r":69,"v":28e-5,"o":7},{"c":6,"r":69,"v":28e-5,"o":6},{"c":7,"r":69,"v":27e-5,"o":5},{"c":8,"r":69,"v":28e-5,"o":6},{"c":9,"r":69,"v":27e-5,"o":6},{"c":10,"r":69,"v":28e-5,"o":7},
{"c":1,"r":70,"v":24e-5,"o":5},{"c":2,"r":70,"v":24e-5,"o":5},{"c":3,"r":70,"v":25e-5,"o":5},{"c":4,"r":70,"v":25e-5,"o":5},{"c":5,"r":70,"v":24e-5,"o":5},{"c":6,"r":70,"v":23e-5,"o":5},{"c":7,"r":70,"v":22e-5,"o":4},{"c":8,"r":70,"v":24e-5,"o":4},{"c":9,"r":70,"v":23e-5,"o":4},{"c":10,"r":70,"v":24e-5,"o":6},
{"c":1,"r":71,"v":17e-5,"o":5},{"c":2,"r":71,"v":16e-5,"o":5},{"c":3,"r":71,"v":15e-5,"o":4},{"c":4,"r":71,"v":15e-5,"o":4},{"c":5,"r":71,"v":16e-5,"o":5},{"c":6,"r":71,"v":15e-5,"o":4},{"c":7,"r":71,"v":14e-5,"o":3},{"c":8,"r":71,"v":14e-5,"o":3},{"c":9,"r":71,"v":16e-5,"o":5},{"c":10,"r":71,"v":16e-5,"o":5},
{"c":1,"r":72,"v":13e-5,"o":5},{"c":2,"r":72,"v":13e-5,"o":4},{"c":3,"r":72,"v":12e-5,"o":5},{"c":4,"r":72,"v":12e-5,"o":4},{"c":5,"r":72,"v":13e-5,"o":5},{"c":6,"r":72,"v":12e-5,"o":4},{"c":7,"r":72,"v":12e-5,"o":3},{"c":8,"r":72,"v":13e-5,"o":3},{"c":9,"r":72,"v":13e-5,"o":5},{"c":10,"r":72,"v":12e-5,"o":4},
{"c":1,"r":73,"v":8e-5,"o":4},{"c":2,"r":73,"v":8e-5,"o":4},{"c":3,"r":73,"v":7e-5,"o":5},{"c":4,"r":73,"v":8e-5,"o":4},{"c":5,"r":73,"v":8e-5,"o":5},{"c":6,"r":73,"v":7e-5,"o":4},{"c":7,"r":73,"v":7e-5,"o":3},{"c":8,"r":73,"v":8e-5,"o":4},{"c":9,"r":73,"v":7e-5,"o":5},{"c":10,"r":73,"v":7e-5,"o":4},
{"c":1,"r":74,"v":2e-5,"o":5},{"c":2,"r":74,"v":2e-5,"o":5},{"c":3,"r":74,"v":2e-5,"o":4},{"c":4,"r":74,"v":2e-5,"o":6},{"c":5,"r":74,"v":2e-5,"o":4},{"c":6,"r":74,"v":2e-5,"o":5},{"c":7,"r":74,"v":2e-5,"o":6},{"c":8,"r":74,"v":2e-5,"o":5},{"c":9,"r":74,"v":2e-5,"o":5},{"c":10,"r":74,"v":2e-5,"o":6},
{"c":1,"r":75,"v":2e-5,"o":4},{"c":2,"r":75,"v":2e-5,"o":8},{"c":3,"r":75,"v":2e-5,"o":5},{"c":4,"r":75,"v":2e-5,"o":7},{"c":5,"r":75,"v":2e-5,"o":5},{"c":6,"r":75,"v":2e-5,"o":5},{"c":7,"r":75,"v":2e-5,"o":4},{"c":8,"r":75,"v":2e-5,"o":6},{"c":9,"r":75,"v":2e-5,"o":4},{"c":10,"r":75,"v":2e-5,"o":5},
{"c":1,"r":76,"v":2e-5,"o":5},{"c":2,"r":76,"v":2e-5,"o":8},{"c":3,"r":76,"v":2e-5,"o":7},{"c":4,"r":76,"v":2e-5,"o":5},{"c":5,"r":76,"v":2e-5,"o":6},{"c":6,"r":76,"v":2e-5,"o":7},{"c":7,"r":76,"v":2e-5,"o":5},{"c":8,"r":76,"v":2e-5,"o":5},{"c":9,"r":76,"v":2e-5,"o":4},{"c":10,"r":76,"v":2e-5,"o":5},
{"c":1,"r":77,"v":2e-5,"o":4},{"c":2,"r":77,"v":2e-5,"o":3},{"c":3,"r":77,"v":2e-5,"o":4},{"c":4,"r":77,"v":2e-5,"o":7},{"c":5,"r":77,"v":2e-5,"o":4},{"c":6,"r":77,"v":2e-5,"o":5},{"c":7,"r":77,"v":2e-5,"o":6},{"c":8,"r":77,"v":2e-5,"o":5},{"c":9,"r":77,"v":2e-5,"o":3},{"c":10,"r":77,"v":2e-5,"o":4},
{"c":1,"r":78,"v":2e-5,"o":5},{"c":2,"r":78,"v":2e-5,"o":5},{"c":3,"r":78,"v":2e-5,"o":5},{"c":4,"r":78,"v":2e-5,"o":5},{"c":5,"r":78,"v":2e-5,"o":5},{"c":6,"r":78,"v":2e-5,"o":6},{"c":7,"r":78,"v":2e-5,"o":5},{"c":8,"r":78,"v":2e-5,"o":7},{"c":9,"r":78,"v":2e-5,"o":6},{"c":10,"r":78,"v":2e-5,"o":4},
{"c":1,"r":79,"v":2e-5,"o":6},{"c":2,"r":79,"v":2e-5,"o":4},{"c":3,"r":79,"v":2e-5,"o":4},{"c":4,"r":79,"v":2e-5,"o":6},{"c":5,"r":79,"v":2e-5,"o":7},{"c":6,"r":79,"v":2e-5,"o":5},{"c":7,"r":79,"v":2e-5,"o":4},{"c":8,"r":79,"v":2e-5,"o":6},{"c":9,"r":79,"v":2e-5,"o":5},{"c":10,"r":79,"v":2e-5,"o":3},
{"c":1,"r":80,"v":1e-5,"o":10},{"c":2,"r":80,"v":2e-5,"o":7},{"c":3,"r":80,"v":2e-5,"o":7},{"c":4,"r":80,"v":2e-5,"o":6},{"c":5,"r":80,"v":2e-5,"o":7},{"c":6,"r":80,"v":2e-5,"o":6},{"c":7,"r":80,"v":2e-5,"o":6},{"c":8,"r":80,"v":2e-5,"o":5},{"c":9,"r":80,"v":1e-5,"o":9},{"c":10,"r":80,"v":1e-5,"o":10}],
"mesh":[{"m":27.65,"lo":-11.7,"hi":-5.22},{"m":27.65,"lo":0,"hi":11.7},{"m":26.2,"lo":-10.44,"hi":2.61},{"m":25.5,"lo":-11.7,"hi":-2.61},{"m":24.8,"lo":-5.22,"hi":7.83},{"m":24.1,"lo":-11.7,"hi":0},{"m":23.3,"lo":2.61,"hi":11.7},{"m":22.6,"lo":-11.7,"hi":5.22},{"m":21.2,"lo":-10.44,"hi":11.7},{"m":20.5,"lo":-11.7,"hi":7.83},{"m":19.75,"lo":-7.83,"hi":11.7},{"m":18.3,"lo":-11.7,"hi":2.61},{"m":17.6,"lo":-2.61,"hi":11.7},{"m":16.9,"lo":-11.7,"hi":-5.22},{"m":16.15,"lo":-5.22,"hi":10.42},{"m":15.4,"lo":-11.7,"hi":2.61},{"m":14.7,"lo":0,"hi":11.7},{"m":13.95,"lo":-10.44,"hi":5.22},{"m":13.3,"lo":-11.7,"hi":11.7},{"m":12.55,"lo":-7.83,"hi":5.22},{"m":11.85,"lo":-11.7,"hi":-2.61},{"m":11.1,"lo":2.61,"hi":11.7},{"m":10.4,"lo":-10.44,"hi":5.22},{"m":9.7,"lo":-11.7,"hi":11.7},{"m":8.95,"lo":-5.22,"hi":10.42},{"m":8.25,"lo":-11.7,"hi":0},{"m":5.4,"lo":-11.7,"hi":11.7},{"m":4.65,"lo":-11.7,"hi":11.7},{"m":3.95,"lo":-10.44,"hi":10.42},{"m":3.2,"lo":-11.7,"hi":11.7},{"m":2.5,"lo":-7.83,"hi":11.7},{"m":1.8,"lo":-11.7,"hi":5.22},{"m":1.1,"lo":-10.44,"hi":11.7},{"m":0.35,"lo":-11.7,"hi":7.83},{"m":-0.35,"lo":-5.22,"hi":11.7},{"m":-1.1,"lo":-11.7,"hi":11.7},{"m":-1.8,"lo":-10.44,"hi":5.22},{"m":-2.5,"lo":-11.7,"hi":11.7},{"m":-3.25,"lo":-7.83,"hi":11.7},{"m":-6.1,"lo":-11.7,"hi":11.7},{"m":-6.85,"lo":-10.44,"hi":10.42},{"m":-7.55,"lo":-11.7,"hi":11.7},{"m":-8.25,"lo":-7.83,"hi":11.7},{"m":-9.7,"lo":-11.7,"hi":7.83},{"m":-10.4,"lo":-10.44,"hi":11.7},{"m":-11.15,"lo":-11.7,"hi":5.22},{"m":-11.85,"lo":-5.22,"hi":11.7},{"m":-12.55,"lo":-11.7,"hi":2.61},{"m":-13.3,"lo":-2.61,"hi":10.42},{"m":-14,"lo":-11.7,"hi":11.7},{"m":-14.7,"lo":-7.83,"hi":7.83},{"m":-15.45,"lo":-11.7,"hi":11.7},{"m":-16.2,"lo":-10.44,"hi":11.7},{"m":-16.9,"lo":-11.7,"hi":7.83},{"m":-17.6,"lo":-7.83,"hi":11.7},{"m":-18.3,"lo":-11.7,"hi":11.7},{"m":-19.05,"lo":-10.44,"hi":11.7},{"m":-19.75,"lo":-11.7,"hi":10.42},{"m":-20.5,"lo":-7.83,"hi":11.7},{"m":-21.2,"lo":-11.7,"hi":11.7},{"m":-21.9,"lo":-10.44,"hi":7.83},{"m":-22.65,"lo":-11.7,"hi":11.7},{"m":-24.05,"lo":-11.7,"hi":5.22},{"m":-24.8,"lo":-5.22,"hi":11.7},{"m":-25.5,"lo":-11.7,"hi":-5.22},{"m":-26.2,"lo":-10.44,"hi":11.7},{"m":-26.95,"lo":-11.7,"hi":7.83},{"m":-27.65,"lo":-5.22,"hi":10.42}]
},
"hconcat":[
{"spacing":6,"vconcat":[
{"width":999,"height":30,"data":{"values":[{"a":-10.1,"b":0.3,"t":"Brightness:\u00a0\u00a0\u00a0Θ={{2.,\u00a0−2"}]},"mark":{"type":"text","align":"left","baseline":"alphabetic","font":"Liberation Serif","fontSize":27,"color":"#3a3a3a"},"encoding":{"x":{"field":"a","type":"quantitative","axis":null,"scale":{"domain":[-12.2,12.17],"nice":false,"zero":false}},"y":{"field":"b","type":"quantitative","axis":null,"scale":{"domain":[0,1],"nice":false,"zero":false}},"text":{"field":"t"}}},
{"width":999,"height":998,
"view":{"stroke":"#000","strokeWidth":2.5},
"resolve":{"axis":{"x":"independent","y":"independent"}},
"layer":[
{"data":{"name":"cols"},"transform":[{"aggregate":[{"op":"min","field":"a0","as":"a0"},{"op":"max","field":"a1","as":"a1"}]}],"mark":{"type":"rect","color":"#000"},
"encoding":{"x":{"field":"a0","type":"quantitative","scale":{"domain":[-12.2,12.17],"nice":false,"zero":false},
"axis":{"orient":"bottom","title":"α, deg.","values":[-12,-11,-10,-9,-8,-7,-6,-5,-4,-3,-2,-1,0,1,2,3,4,5,6,7,8,9,10,11,12],"format":"d","labelExpr":"datum.value%5===0?datum.label:''","domain":false,"tickSize":{"condition":{"test":"datum.value%5===0","value":-10},"value":-5},"labelPadding":16,"titlePadding":12}},"x2":{"field":"a1"},
"y":{"datum":-28.74,"type":"quantitative","scale":{"domain":[-29.88,29.88],"nice":false,"zero":false},
"axis":{"orient":"left","title":"β, deg.","values":[-28,-26,-24,-22,-20,-18,-16,-14,-12,-10,-8,-6,-4,-2,0,2,4,6,8,10,12,14,16,18,20,22,24,26,28],"format":"d","labelExpr":"datum.value%10===0?datum.label:''","domain":false,"tickSize":{"condition":{"test":"datum.value%10===0","value":-10},"value":-5},"labelPadding":19,"titlePadding":18}},"y2":{"datum":28.74}}},
{"data":{"name":"cells"},"transform":[{"lookup":"c","from":{"data":{"name":"cols"},"key":"c","fields":["a0","a1"]}},{"lookup":"r","from":{"data":{"name":"rows"},"key":"r","fields":["b0","b1"]}}],"mark":{"type":"rect"},
"encoding":{"x":{"field":"a0","type":"quantitative","axis":null},"x2":{"field":"a1"},"y":{"field":"b0","type":"quantitative","axis":null},"y2":{"field":"b1"},
"color":{"field":"v","type":"quantitative","legend":null,"scale":{"interpolate":"rgb","domain":[0,4e-5,6e-5,1e-4,1.4e-4,1.8e-4,2e-4,2.4e-4,2.8e-4,3e-4,3.4e-4,3.7e-4,4e-4,4.4e-4,4.75e-4],"range":["#4a69a2","#4a69a2","#5a6a9f","#53826a","#578758","#73944b","#82a04e","#aab455","#d0cc5f","#d7c65a","#e1be5f","#daaa5f","#cd7852","#c55548","#c65248"]}},
"opacity":{"field":"o","type":"quantitative","legend":null,"scale":{"domain":[0,10],"range":[0,0.92]}}}},
{"data":{"name":"mesh"},"mark":{"type":"rule","color":"#000","opacity":0.35,"strokeWidth":2},"encoding":{"x":{"field":"lo","type":"quantitative","axis":null},"x2":{"field":"hi"},"y":{"field":"m","type":"quantitative","axis":null}}},
{"data":{"name":"cols"},"transform":[{"filter":"datum.c>1"}],"mark":{"type":"rule","color":"#000","opacity":0.35,"strokeWidth":1.5},"encoding":{"x":{"field":"a0","type":"quantitative","axis":null},"y":{"datum":-28.74,"type":"quantitative","axis":null},"y2":{"datum":28.74}}},
{"data":{"values":[{"a":0.66,"b":3.53},{"a":-1,"b":-4.67},{"a":0.78,"b":-19.94}]},"mark":{"type":"point","filled":false,"shape":"circle","size":2400,"stroke":"#05eeee","strokeWidth":3.2,"opacity":1},
"encoding":{"x":{"field":"a","type":"quantitative","axis":{"orient":"top","title":null,"labels":false,"domain":false,"values":[-12,-11,-10,-9,-8,-7,-6,-5,-4,-3,-2,-1,0,1,2,3,4,5,6,7,8,9,10,11,12],"tickSize":{"condition":{"test":"datum.value%5===0","value":-10},"value":-5}}},
"y":{"field":"b","type":"quantitative","axis":{"orient":"right","title":null,"labels":false,"domain":false,"values":[-28,-26,-24,-22,-20,-18,-16,-14,-12,-10,-8,-6,-4,-2,0,2,4,6,8,10,12,14,16,18,20,22,24,26,28],"tickSize":{"condition":{"test":"datum.value%10===0","value":-10},"value":-5}}}}}
]}]},
{"width":141,"height":1096,
"data":{"values":[{"lo":0,"hi":1e-5},{"lo":1e-5,"hi":2e-5},{"lo":2e-5,"hi":3e-5},{"lo":3e-5,"hi":4e-5},{"lo":4e-5,"hi":5e-5},{"lo":5e-5,"hi":6e-5},{"lo":6e-5,"hi":7e-5},{"lo":7e-5,"hi":8e-5},{"lo":8e-5,"hi":9e-5},{"lo":9e-5,"hi":10e-5},{"lo":10e-5,"hi":11e-5},{"lo":11e-5,"hi":12e-5},{"lo":12e-5,"hi":13e-5},{"lo":13e-5,"hi":14e-5},{"lo":14e-5,"hi":15e-5},{"lo":15e-5,"hi":16e-5},{"lo":16e-5,"hi":17e-5},{"lo":17e-5,"hi":18e-5},{"lo":18e-5,"hi":19e-5},{"lo":19e-5,"hi":20e-5},{"lo":20e-5,"hi":21e-5},{"lo":21e-5,"hi":22e-5},{"lo":22e-5,"hi":23e-5},{"lo":23e-5,"hi":24e-5},{"lo":24e-5,"hi":25e-5},{"lo":25e-5,"hi":26e-5},{"lo":26e-5,"hi":27e-5},{"lo":27e-5,"hi":28e-5},{"lo":28e-5,"hi":29e-5},{"lo":29e-5,"hi":30e-5},{"lo":30e-5,"hi":31e-5},{"lo":31e-5,"hi":32e-5},{"lo":32e-5,"hi":33e-5},{"lo":33e-5,"hi":34e-5},{"lo":34e-5,"hi":35e-5},{"lo":35e-5,"hi":36e-5},{"lo":36e-5,"hi":37e-5},{"lo":37e-5,"hi":38e-5},{"lo":38e-5,"hi":39e-5},{"lo":39e-5,"hi":40e-5},{"lo":40e-5,"hi":41e-5},{"lo":41e-5,"hi":42e-5},{"lo":42e-5,"hi":43e-5},{"lo":43e-5,"hi":44e-5},{"lo":44e-5,"hi":45e-5},{"lo":45e-5,"hi":46e-5},{"lo":46e-5,"hi":47e-5},{"lo":47e-5,"hi":47.5e-5}]},
"mark":{"type":"rect"},
"encoding":{"y":{"field":"lo","type":"quantitative","scale":{"domain":[0,4.765e-4],"nice":false,"zero":false},
"axis":{"title":null,"orient":"left","zindex":1,"values":[0,2e-5,4e-5,1e-4,1.2e-4,1.6e-4,1.8e-4,2e-4,2.4e-4,2.6e-4,3e-4,3.2e-4,3.8e-4,4e-4,4.4e-4,4.6e-4],"format":".4f","labelExpr":"abs(round(datum.value*1e4)-datum.value*1e4)<1e-6?datum.label:''","domain":true,"domainColor":"#000","domainWidth":2.5,"tickSize":{"condition":{"test":"abs(round(datum.value*1e4)-datum.value*1e4)<1e-6","value":-6},"value":-3},"labelPadding":17}},"y2":{"field":"hi"},
"color":{"field":"lo","type":"quantitative","legend":null,"scale":{"interpolate":"rgb","domain":[0,4e-5,6e-5,1e-4,1.4e-4,1.8e-4,2e-4,2.4e-4,2.8e-4,3e-4,3.4e-4,3.7e-4,4e-4,4.4e-4,4.75e-4],"range":["#4a69a2","#4a69a2","#5a6a9f","#53826a","#578758","#73944b","#82a04e","#aab455","#d0cc5f","#d7c65a","#e1be5f","#daaa5f","#cd7852","#c55548","#c65248"]}},
"stroke":{"field":"lo","type":"quantitative","legend":null,"scale":{"interpolate":"rgb","domain":[0,4e-5,6e-5,1e-4,1.4e-4,1.8e-4,2e-4,2.4e-4,2.8e-4,3e-4,3.4e-4,3.7e-4,4e-4,4.4e-4,4.75e-4],"range":["#4a69a2","#4a69a2","#5a6a9f","#53826a","#578758","#73944b","#82a04e","#aab455","#d0cc5f","#d7c65a","#e1be5f","#daaa5f","#cd7852","#c55548","#c65248"]}}}}
]}
